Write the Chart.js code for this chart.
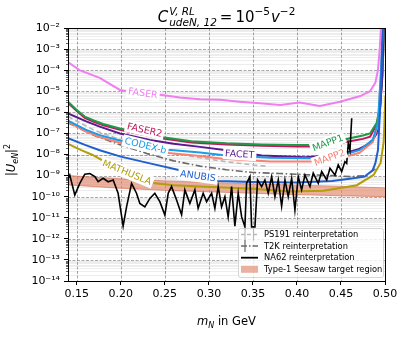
<!DOCTYPE html>
<html>
<head>
<meta charset="utf-8">
<script src="https://cdn.jsdelivr.net/npm/chart.js@4.4.1/dist/chart.umd.min.js"></script>
<style>
  html, body { margin: 0; padding: 0; background: #fff; }
  #chart { display: block; }
</style>
</head>
<body>
<canvas id="chart" width="407" height="337"></canvas>
<script>
const FONT = "'DejaVu Sans', sans-serif";

// axis ticks
const xTicks = [0.15, 0.20, 0.25, 0.30, 0.35, 0.40, 0.45, 0.50];
const yTicks = [1e-14, 1e-13, 1e-12, 1e-11, 1e-10, 1e-9, 1e-8, 1e-7, 1e-6, 1e-5, 1e-4, 1e-3, 1e-2];
const yTickLabels = ["10⁻¹⁴", "10⁻¹³", "10⁻¹²", "10⁻¹¹", "10⁻¹⁰", "10⁻⁹", "10⁻⁸", "10⁻⁷", "10⁻⁶", "10⁻⁵", "10⁻⁴", "10⁻³", "10⁻²"];

// sensitivity curves: m_N in GeV, |U_eN|^2
const faserMass = [0.140, 0.153, 0.176, 0.199, 0.222, 0.247, 0.267, 0.290, 0.313, 0.335, 0.358, 0.381, 0.403, 0.426, 0.449, 0.472, 0.483, 0.489, 0.492, 0.494, 0.4955];
const faserU2 = [2.4e-4, 1.0e-4, 4.3e-5, 1.15e-5, 8.3e-6, 6.6e-6, 5.0e-6, 4.2e-6, 3.9e-6, 3.2e-6, 2.7e-6, 2.2e-6, 2.9e-6, 2.0e-6, 3.2e-6, 5.9e-6, 1.0e-5, 2.5e-5, 1.0e-4, 1.0e-3, 1.2e-2];

const mapp1Mass = [0.140, 0.150, 0.159, 0.170, 0.180, 0.199, 0.220, 0.244, 0.280, 0.320, 0.360, 0.400, 0.415, 0.440, 0.460, 0.475, 0.483, 0.4906, 0.4943, 0.4970, 0.4990];
const mapp1U2 = [3.2e-6, 1.3e-6, 6.3e-7, 4.0e-7, 2.8e-7, 1.7e-7, 1.1e-7, 6.9e-8, 4.2e-8, 3.4e-8, 3.0e-8, 2.8e-8, 2.8e-8, 3.8e-8, 5.9e-8, 7.9e-8, 1.0e-7, 3.2e-7, 1.9e-6, 6.3e-5, 1.0e-2];

const faser2Mass = [0.140, 0.150, 0.159, 0.170, 0.180, 0.199, 0.220, 0.244, 0.280, 0.320, 0.360, 0.400, 0.415, 0.440, 0.460, 0.475, 0.483, 0.4906, 0.4943, 0.4970, 0.4990];
const faser2U2 = [2.8e-6, 1.15e-6, 5.5e-7, 3.5e-7, 2.45e-7, 1.5e-7, 9.6e-8, 6.0e-8, 3.7e-8, 2.95e-8, 2.6e-8, 2.4e-8, 2.4e-8, 3.0e-8, 4.2e-8, 5.5e-8, 7.0e-8, 2.6e-7, 1.6e-6, 5.0e-5, 1.0e-2];

const facetMass = [0.140, 0.160, 0.176, 0.199, 0.233, 0.260, 0.290, 0.320, 0.360, 0.410, 0.443, 0.4565, 0.470, 0.479, 0.486, 0.4906, 0.494, 0.4965, 0.4985];
const facetU2 = [8.9e-7, 3.8e-7, 2.1e-7, 1.0e-7, 4.9e-8, 3.2e-8, 2.3e-8, 1.6e-8, 8.9e-9, 7.4e-9, 9.5e-9, 1.26e-8, 1.8e-8, 2.8e-8, 4.9e-8, 1.0e-7, 1.0e-6, 3.2e-5, 1.0e-2];

const codexMass = [0.140, 0.160, 0.176, 0.200, 0.230, 0.254, 0.290, 0.315, 0.370, 0.415, 0.445, 0.471, 0.486, 0.492, 0.4955, 0.4975];
const codexU2 = [4.0e-7, 1.5e-7, 8.3e-8, 4.5e-8, 2.5e-8, 1.66e-8, 1.26e-8, 9.5e-9, 7.1e-9, 6.6e-9, 7.9e-9, 1.6e-8, 4.9e-8, 3.2e-7, 1.0e-4, 1.26e-2];

const mapp2Mass = [0.140, 0.160, 0.176, 0.200, 0.230, 0.254, 0.290, 0.315, 0.370, 0.415, 0.445, 0.471, 0.486, 0.492, 0.4955, 0.4975];
const mapp2U2 = [3.5e-7, 1.26e-7, 6.8e-8, 3.5e-8, 1.9e-8, 1.17e-8, 8.5e-9, 6.3e-9, 4.7e-9, 4.7e-9, 6.0e-9, 1.2e-8, 3.8e-8, 2.5e-7, 7.9e-5, 1.26e-2];

const anubisMass = [0.140, 0.160, 0.176, 0.200, 0.233, 0.267, 0.290, 0.310, 0.350, 0.400, 0.440, 0.460, 0.477, 0.486, 0.489, 0.492, 0.4955, 0.4975];
const anubisU2 = [5.9e-8, 2.8e-8, 1.6e-8, 7.9e-9, 3.8e-9, 1.8e-9, 1.0e-9, 5.6e-10, 5.0e-10, 4.7e-10, 5.6e-10, 7.1e-10, 8.9e-10, 1.8e-9, 3.8e-9, 1.6e-8, 1.0e-5, 1.26e-2];

const mathuslaMass = [0.140, 0.155, 0.168, 0.178, 0.207, 0.239, 0.260, 0.290, 0.350, 0.393, 0.430, 0.468, 0.487, 0.495, 0.4985, 0.5005];
const mathuslaU2 = [3.2e-8, 1.6e-8, 9.5e-9, 5.5e-9, 1.4e-9, 4.3e-10, 3.5e-10, 3.0e-10, 2.4e-10, 1.74e-10, 1.9e-10, 3.5e-10, 1.07e-9, 4.0e-9, 4.0e-8, 6.3e-6];

const ps191Mass = [0.140, 0.170, 0.200, 0.230, 0.260, 0.290, 0.320, 0.350, 0.365];
const ps191U2 = [6.3e-7, 1.4e-7, 5.0e-8, 2.2e-8, 1.1e-8, 7.1e-9, 4.5e-9, 3.2e-9, 2.8e-9];

const t2kMass = [0.140, 0.170, 0.200, 0.230, 0.260, 0.290, 0.320, 0.350, 0.380, 0.410, 0.440, 0.460, 0.478, 0.490];
const t2kU2 = [3.2e-7, 7.9e-8, 2.8e-8, 1.1e-8, 5.0e-9, 2.8e-9, 1.9e-9, 1.4e-9, 1.26e-9, 1.1e-9, 1.0e-9, 8.9e-10, 1.0e-9, 2.2e-9];

const na62Mass = [0.1401, 0.1420, 0.1477, 0.1534, 0.1591, 0.1648, 0.1705, 0.1742, 0.1799, 0.1856, 0.1913, 0.1969, 0.2026, 0.2065, 0.2122, 0.2178, 0.2216, 0.2273, 0.2330, 0.2386, 0.2443, 0.2500, 0.2538, 0.2576, 0.2633, 0.2690, 0.2727, 0.2784, 0.2841, 0.2878, 0.2935, 0.2974, 0.3031, 0.3068, 0.3106, 0.3144, 0.3182, 0.3219, 0.3258, 0.3295, 0.3333, 0.3372, 0.3409, 0.3428, 0.3466, 0.3485, 0.3523, 0.3553, 0.3599, 0.3636, 0.3674, 0.3713, 0.3750, 0.3788, 0.3826, 0.3864, 0.3901, 0.3940, 0.3977, 0.4015, 0.4053, 0.4091, 0.4148, 0.4185, 0.4242, 0.4281, 0.4338, 0.4375, 0.4432, 0.4469, 0.4508, 0.4545, 0.4565, 0.4583, 0.4602, 0.4622];
const na62U2 = [7.4e-10, 1.07e-9, 1.2e-10, 4.3e-10, 1.17e-9, 1.26e-9, 8.9e-10, 5.1e-10, 7.4e-10, 5.1e-10, 6.2e-10, 1.45e-10, 4.0e-12, 3.3e-11, 4.3e-10, 1.45e-10, 4.8e-11, 3.3e-11, 8.3e-11, 1.45e-10, 5.8e-11, 1.35e-11, 1.45e-10, 3.0e-10, 6.9e-11, 1.4e-11, 2.1e-10, 4.8e-11, 2.1e-10, 2.8e-11, 1.45e-10, 5.8e-11, 1.45e-10, 2.8e-11, 3.0e-10, 3.3e-11, 1.0e-10, 1.1e-11, 3.0e-10, 4.0e-12, 1.45e-10, 1.1e-11, 3.7e-12, 4.3e-10, 8.9e-10, 3.7e-12, 3.7e-12, 6.2e-10, 3.0e-10, 6.2e-10, 1.45e-10, 8.9e-10, 1.0e-10, 6.2e-10, 3.5e-11, 6.2e-10, 1.0e-10, 7.4e-10, 2.3e-11, 8.9e-10, 2.1e-10, 1.07e-9, 3.0e-10, 1.3e-9, 4.3e-10, 1.55e-9, 6.2e-10, 2.2e-9, 1.07e-9, 3.2e-9, 1.55e-9, 4.6e-9, 3.8e-9, 3.4e-8, 1.6e-8, 5.2e-7];

// type-1 seesaw band
const seesawMass = [0.14, 0.20, 0.25, 0.30, 0.35, 0.40, 0.45, 0.50];
const seesawUpper = [1.0e-9, 7.0e-10, 5.6e-10, 4.7e-10, 4.0e-10, 3.5e-10, 3.1e-10, 2.6e-10];
const seesawLower = [3.6e-10, 2.5e-10, 2.0e-10, 1.7e-10, 1.45e-10, 1.25e-10, 1.1e-10, 1.0e-10];

// inline curve labels (position along the curve, rotation in degrees)
const curveLabels = [
    { text: "FASER", series: "FASER", m: 0.225, angle: 8, dy: 0 },
    { text: "FASER2", series: "FASER2", m: 0.227, angle: 13, dy: -5 },
    { text: "CODEX-b", series: "CODEX-b", m: 0.228, angle: 14, dy: 0 },
    { text: "MATHUSLA", series: "MATHUSLA", m: 0.207, angle: 22, dy: 0 },
    { text: "ANUBIS", series: "ANUBIS", m: 0.2875, angle: 8, dy: 1 },
    { text: "FACET", series: "FACET", m: 0.335, angle: 4, dy: 2 },
    { text: "MAPP1", series: "MAPP1", m: 0.435, angle: -20, dy: 0 },
    { text: "MAPP2", series: "MAPP2", m: 0.437, angle: -20, dy: -2 },
];

function pairs(mass, vals) {
    return mass.map((m, i) => ({ x: m, y: vals[i] }));
}

function curve(label, mass, vals, color, order, extra) {
    return Object.assign({
        label: label,
        data: pairs(mass, vals),
        borderColor: color,
        backgroundColor: color,
        borderWidth: 2,
        pointRadius: 0,
        fill: false,
        tension: 0,
        order: order,
    }, extra || {});
}

const seesawFill = "rgba(222,128,98,0.62)";

const datasets = [
    curve("seesaw-upper", seesawMass, seesawUpper, "rgba(205,105,75,0.8)", 30, { borderWidth: 0.8 }),
    curve("seesaw-lower", seesawMass, seesawLower, "rgba(205,105,75,0.8)", 29, { borderWidth: 0.8, fill: "-1", backgroundColor: seesawFill }),
    curve("PS191", ps191Mass, ps191U2, "#b8b8b8", 20, { borderWidth: 1.6, borderDash: [5, 3] }),
    curve("T2K", t2kMass, t2kU2, "#6a6a6a", 19, { borderWidth: 1.6, borderDash: [7, 2.5, 1.5, 2.5] }),
    curve("FASER2", faser2Mass, faser2U2, "#c2185b", 12),
    curve("MAPP1", mapp1Mass, mapp1U2, "#1e9a48", 11),
    curve("FACET", facetMass, facetU2, "#581a8e", 10),
    curve("MAPP2", mapp2Mass, mapp2U2, "#fa8072", 9),
    curve("CODEX-b", codexMass, codexU2, "#1c9be6", 8),
    curve("ANUBIS", anubisMass, anubisU2, "#1f5fcf", 7),
    curve("MATHUSLA", mathuslaMass, mathuslaU2, "#b29d0a", 6),
    curve("FASER", faserMass, faserU2, "#f07ef0", 5),
    curve("NA62", na62Mass, na62U2, "#000000", 1, { borderWidth: 1.6 }),
];

function interpValue(ds, m) {
    const d = ds.data;
    for (let i = 0; i < d.length - 1; i++) {
        if (m >= d[i].x && m <= d[i + 1].x) {
            const t = (m - d[i].x) / (d[i + 1].x - d[i].x);
            const l0 = Math.log10(d[i].y), l1 = Math.log10(d[i + 1].y);
            return Math.pow(10, l0 + t * (l1 - l0));
        }
    }
    return d[d.length - 1].y;
}

function fontStr(size, italic) {
    return (italic ? "italic " : "") + size + "px " + FONT;
}

// draw a row of text pieces (simple mathtext imitation), centred on cx
function drawRuns(ctx, runs, cx, base) {
    let total = 0;
    let lastStart = 0, lastW = 0;
    runs.forEach(r => {
        ctx.font = fontStr(r.size, r.italic);
        r.w = ctx.measureText(r.t).width;
        if (r.overlap) {
            r.x = lastStart;
            const adv = Math.max(0, r.w - lastW);
            total += adv;
            lastW = Math.max(lastW, r.w);
        } else {
            r.x = total + (r.gap || 0);
            total = r.x + r.w;
            lastStart = r.x;
            lastW = r.w;
        }
    });
    const x0 = cx - total / 2;
    ctx.textBaseline = "alphabetic";
    ctx.textAlign = "left";
    runs.forEach(r => {
        ctx.font = fontStr(r.size, r.italic);
        ctx.fillText(r.t, x0 + r.x, base + (r.dy || 0));
    });
}

const gridPlugin = {
    id: "mplGrid",
    beforeDatasetsDraw(chart) {
        const { ctx, chartArea: a, scales } = chart;
        const y = scales.y, x = scales.x;
        ctx.save();
        ctx.lineWidth = 0.8;
        // minor log grid
        ctx.strokeStyle = "rgba(0,0,0,0.09)";
        for (let e = -14; e < -2; e++) {
            for (let k = 2; k <= 9; k++) {
                const py = Math.round(y.getPixelForValue(k * Math.pow(10, e))) + 0.5;
                ctx.beginPath();
                ctx.moveTo(a.left, py);
                ctx.lineTo(a.right, py);
                ctx.stroke();
            }
        }
        // major dashed grid
        ctx.strokeStyle = "rgba(0,0,0,0.42)";
        ctx.setLineDash([3, 1.5]);
        yTicks.forEach(v => {
            const py = Math.round(y.getPixelForValue(v)) + 0.5;
            ctx.beginPath();
            ctx.moveTo(a.left, py);
            ctx.lineTo(a.right, py);
            ctx.stroke();
        });
        xTicks.forEach(v => {
            const px = Math.round(x.getPixelForValue(v)) + 0.5;
            ctx.beginPath();
            ctx.moveTo(px, a.top);
            ctx.lineTo(px, a.bottom);
            ctx.stroke();
        });
        ctx.setLineDash([]);
        // minor tick marks on the y axis
        ctx.strokeStyle = "#000";
        ctx.lineWidth = 0.6;
        for (let e = -14; e < -2; e++) {
            for (let k = 2; k <= 9; k++) {
                const py = Math.round(y.getPixelForValue(k * Math.pow(10, e))) + 0.5;
                ctx.beginPath();
                ctx.moveTo(a.left - 2, py);
                ctx.lineTo(a.left, py);
                ctx.stroke();
            }
        }
        ctx.restore();
    },
    afterDatasetsDraw(chart) {
        const { ctx, chartArea: a, scales } = chart;
        ctx.save();
        // labels sitting on the curves
        ctx.font = fontStr(9.5, false);
        ctx.textAlign = "center";
        ctx.textBaseline = "middle";
        curveLabels.forEach(l => {
            const ds = chart.data.datasets.find(d => d.label === l.series);
            if (!ds) {
                return;
            }
            const px = scales.x.getPixelForValue(l.m);
            const py = scales.y.getPixelForValue(interpValue(ds, l.m)) + l.dy;
            const w = ctx.measureText(l.text).width;
            ctx.save();
            ctx.translate(px, py);
            ctx.rotate(l.angle * Math.PI / 180);
            ctx.fillStyle = "#fff";
            ctx.fillRect(-w / 2 - 2, -6, w + 4, 12);
            ctx.fillStyle = ds.borderColor;
            ctx.fillText(l.text, 0, 0.5);
            ctx.restore();
        });
        // axes frame
        ctx.strokeStyle = "#000";
        ctx.lineWidth = 1;
        ctx.strokeRect(Math.round(a.left) + 0.5, Math.round(a.top) + 0.5, Math.round(a.right - a.left), Math.round(a.bottom - a.top));
        ctx.restore();
    },
    afterDraw(chart) {
        const { ctx, chartArea: a } = chart;
        ctx.save();
        ctx.fillStyle = "#000";
        const cx = (a.left + a.right) / 2;

        // title
        drawRuns(ctx, [
            { t: "C", size: 15, italic: true },
            { t: "V, RL", size: 10.5, italic: true, dy: -7, gap: 1 },
            { t: "udeN, 12", size: 10.5, italic: true, dy: 4, overlap: true },
            { t: "=", size: 15, gap: 3 },
            { t: "10", size: 15, gap: 3 },
            { t: "−5", size: 10.5, dy: -7 },
            { t: "v", size: 15, italic: true, gap: 1 },
            { t: "−2", size: 10.5, dy: -7 },
        ], cx, 22);

        // x label
        drawRuns(ctx, [
            { t: "m", size: 11.5, italic: true },
            { t: "N", size: 8, italic: true, dy: 2.5 },
            { t: " in GeV", size: 11.5 },
        ], cx, 325);

        // y label
        ctx.save();
        ctx.translate(15, 160);
        ctx.rotate(-Math.PI / 2);
        drawRuns(ctx, [
            { t: "|", size: 11.5 },
            { t: "U", size: 11.5, italic: true },
            { t: "eN", size: 8, italic: true, dy: 2.5 },
            { t: "|", size: 11.5 },
            { t: "2", size: 8, dy: -5 },
        ], 0, 0);
        ctx.restore();

        // legend
        const lx = 238, ly = 228, lw = 145, lh = 49;
        ctx.fillStyle = "rgba(255,255,255,0.8)";
        ctx.strokeStyle = "#cccccc";
        ctx.lineWidth = 0.8;
        ctx.beginPath();
        ctx.roundRect(lx + 0.5, ly + 0.5, lw, lh, 2);
        ctx.fill();
        ctx.stroke();

        const rows = [234.5, 246, 257.7, 269.3];
        const hx0 = 241, hx1 = 258;
        // PS191 handle
        ctx.strokeStyle = "#b8b8b8";
        ctx.lineWidth = 1.6;
        ctx.setLineDash([4, 2]);
        ctx.beginPath(); ctx.moveTo(hx0, rows[0]); ctx.lineTo(hx1, rows[0]); ctx.stroke();
        ctx.setLineDash([]);
        ctx.lineWidth = 1.2;
        [245, 253.5].forEach(vx => {
            ctx.beginPath(); ctx.moveTo(vx, rows[0] - 6); ctx.lineTo(vx, rows[0] + 6); ctx.stroke();
        });
        // T2K handle
        ctx.strokeStyle = "#6a6a6a";
        ctx.lineWidth = 1.6;
        ctx.setLineDash([6, 2, 1.5, 2]);
        ctx.beginPath(); ctx.moveTo(hx0, rows[1]); ctx.lineTo(hx1, rows[1]); ctx.stroke();
        ctx.setLineDash([]);
        ctx.lineWidth = 1.2;
        ctx.beginPath(); ctx.moveTo(245, rows[1] - 6); ctx.lineTo(245, rows[1] + 6); ctx.stroke();
        // NA62 handle
        ctx.strokeStyle = "#000";
        ctx.lineWidth = 1.8;
        ctx.beginPath(); ctx.moveTo(hx0, rows[2]); ctx.lineTo(hx1, rows[2]); ctx.stroke();
        // seesaw handle
        ctx.fillStyle = seesawFill;
        ctx.fillRect(hx0, rows[3] - 3.5, hx1 - hx0, 7);

        ctx.fillStyle = "#000";
        ctx.font = fontStr(8.3, false);
        ctx.textAlign = "left";
        ctx.textBaseline = "middle";
        ["PS191 reinterpretation", "T2K reinterpretation", "NA62 reinterpretation", "Type-1 Seesaw target region"].forEach((t, i) => {
            ctx.fillText(t, 264, rows[i] + 0.5);
        });
        ctx.restore();
    },
};

new Chart(document.getElementById("chart"), {
    type: "line",
    data: { datasets: datasets },
    options: {
        responsive: false,
        animation: false,
        devicePixelRatio: 1,
        layout: { padding: { left: 0, right: 22, top: 28, bottom: 0 } },
        plugins: {
            legend: { display: false },
            tooltip: { enabled: false },
            title: { display: false },
        },
        scales: {
            x: {
                type: "linear",
                min: 0.14,
                max: 0.50,
                afterBuildTicks: scale => {
                    scale.ticks = xTicks.map(v => ({ value: v }));
                },
                afterFit: scale => {
                    scale.height = 56;
                },
                ticks: {
                    autoSkip: false,
                    maxRotation: 0,
                    padding: 3,
                    color: "#000",
                    font: { family: FONT, size: 11 },
                    callback: v => Number(v).toFixed(2),
                },
                grid: { drawOnChartArea: false, tickLength: 4, tickColor: "#000" },
                border: { color: "#000" },
            },
            y: {
                type: "logarithmic",
                min: 1e-14,
                max: 1e-2,
                afterBuildTicks: scale => {
                    scale.ticks = yTicks.map(v => ({ value: v }));
                },
                afterFit: scale => {
                    scale.width = 68;
                },
                ticks: {
                    autoSkip: false,
                    padding: 4,
                    color: "#000",
                    font: { family: FONT, size: 11 },
                    callback: (v, i) => yTickLabels[i],
                },
                grid: { drawOnChartArea: false, tickLength: 4, tickColor: "#000" },
                border: { color: "#000" },
            },
        },
    },
    plugins: [gridPlugin],
});
</script>
</body>
</html>
